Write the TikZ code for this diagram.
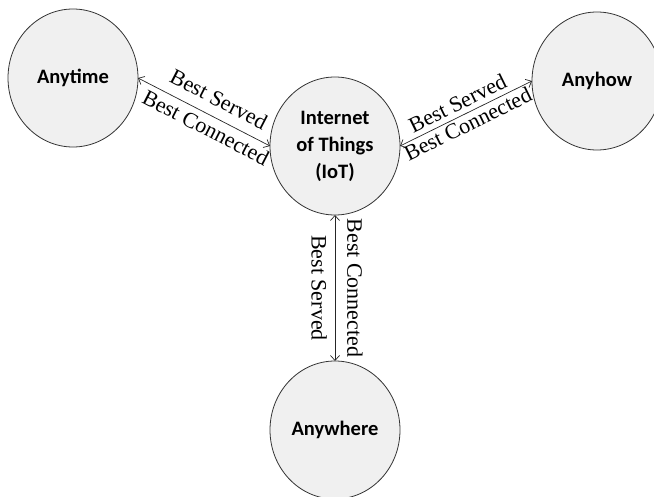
\documentclass[tikz,border=0pt]{standalone}
\usepackage{fontspec}
\setmainfont{Liberation Serif}
\newfontfamily\placefont{Carlito}
\usetikzlibrary{arrows.meta,shapes.geometric}
\definecolor{placefill}{HTML}{F0F0F0}
\definecolor{placeline}{HTML}{333333}
\begin{document}
\begin{tikzpicture}[x=1pt,y=-1pt,
  place/.style={ellipse, draw=placeline, line width=0.8pt, fill=placefill,
    minimum width=130pt, minimum height=138pt, inner sep=0pt, outer sep=0pt,
    align=center, font=\placefont\bfseries\fontsize{20.5}{27}\selectfont},
  conn/.style={draw=black!85, line width=0.7pt,
    {Straight Barb[length=5pt,width=9pt]}-{Straight Barb[length=5pt,width=9pt]}},
  lbl/.style={inner sep=0pt, font=\fontsize{22}{26}\selectfont}]
  \useasboundingbox (0,0) rectangle (654,497);

  % the four places
  \node[place] (anytime)  at (73,78)   {Anytime};
  \node[place] (iot)      at (335,146) {Internet\\of Things\\(IoT)};
  \node[place] (anyhow)   at (597,81)  {Anyhow};
  \node[place] (anywhere) at (335,430) {Anywhere};

  % links from the hub
  \draw[conn] (anytime.east) -- (iot.west)
    node[lbl, pos=0.55, sloped, above=10pt] (s1) {Best Served}
    node[lbl, pos=0.56, sloped, below=5pt]  (c1) {Best Connected};
  \draw[conn] (iot.east) -- (anyhow.west)
    node[lbl, pos=0.48, sloped, above=5pt] (s2) {Best Served}
    node[lbl, pos=0.48, sloped, below=2pt] (c2) {Best Connected};
  \draw[conn] (iot.south) -- (anywhere.north) coordinate[pos=0.5] (vmid);
  \node[lbl, rotate=-90, anchor=north] (s3) at ([xshift=-8pt]vmid) {Best Served};
  \node[lbl, rotate=-90, anchor=south] (c3) at ([xshift=12pt]vmid) {Best Connected};
\end{tikzpicture}
\end{document}
